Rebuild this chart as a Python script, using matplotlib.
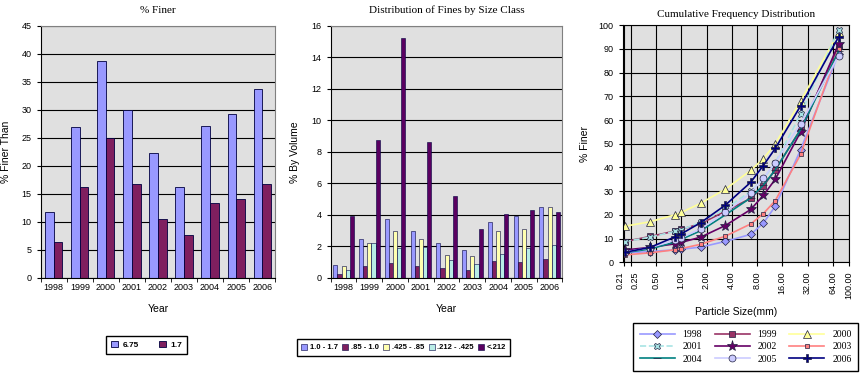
import matplotlib.pyplot as plt
import numpy as np

# data
years = ['1998', '1999', '2000', '2001', '2002', '2003', '2004', '2005', '2006']

# % finer than (chart 1)
finer_675 = [11.8, 27.0, 38.8, 30.0, 22.3, 16.2, 27.2, 29.3, 33.8]
finer_17 = [6.4, 16.3, 24.9, 16.8, 10.6, 7.6, 13.3, 14.1, 16.7]

# distribution of fines by size class (chart 2)
cls_10_17 = [0.85, 2.45, 3.77, 2.98, 2.24, 1.76, 3.56, 3.96, 4.53]
cls_085_10 = [0.23, 0.74, 0.97, 0.74, 0.61, 0.49, 1.08, 0.99, 1.23]
cls_0425_085 = [0.76, 2.24, 2.98, 2.45, 1.48, 1.38, 2.98, 3.13, 4.53]
cls_0212_0425 = [0.53, 2.20, 1.88, 1.95, 1.12, 0.87, 1.55, 1.93, 2.12]
cls_lt0212 = [3.96, 8.74, 15.2, 8.65, 5.23, 3.09, 4.08, 4.30, 4.17]
class_labels = ['1.0 - 1.7', '.85 - 1.0', '.425 - .85', '.212 - .425', '<.212']

# cumulative frequency distribution (chart 3)
sizes = [0.212, 0.425, 0.85, 1.0, 1.7, 3.35, 6.75, 9.5, 13.2, 26.5, 75]
cum_1998 = [4.0, 4.5, 5.3, 5.5, 6.4, 8.8, 11.8, 16.5, 23.6, 47.5, 88]
cum_1999 = [8.7, 10.9, 13.2, 13.9, 16.3, 21.5, 27.0, 32.0, 39.0, 56.0, 91]
cum_2000 = [15.2, 17.1, 20.1, 21.0, 24.9, 30.8, 38.8, 43.7, 49.9, 68.0, 97]
cum_2001 = [8.7, 10.6, 13.1, 13.8, 16.8, 22.5, 30.0, 35.0, 42.0, 62.5, 98]
cum_2002 = [5.2, 6.3, 7.8, 8.4, 10.6, 15.5, 22.3, 28.2, 35.0, 55.0, 92]
cum_2003 = [3.1, 4.0, 5.3, 5.8, 7.6, 11.0, 16.2, 20.5, 26.0, 45.5, 90]
cum_2004 = [4.1, 5.6, 8.6, 9.7, 13.3, 20.0, 27.2, 32.5, 39.0, 56.0, 89]
cum_2005 = [4.3, 6.2, 9.4, 10.4, 14.1, 21.0, 29.3, 35.5, 42.0, 58.5, 87]
cum_2006 = [4.2, 6.3, 10.8, 12.0, 16.7, 24.1, 33.8, 40.8, 48.0, 66.0, 95]

size_ticks = [0.21, 0.25, 0.5, 1, 2, 4, 8, 16, 32, 64, 100]

bg = '#E0E0E0'
serif = 'Liberation Serif'
sans = 'Liberation Sans'

fig = plt.figure(figsize=(8.68, 3.85), dpi=100)


def style_bar_axes(ax, ymax, ystep, ylabel, title):
    ax.set_facecolor(bg)
    ax.set_xlim(-0.5, len(years) - 0.5)
    ax.set_ylim(0, ymax)
    ax.set_yticks(np.arange(0, ymax + 0.01, ystep))
    ax.yaxis.grid(True, color='black', lw=0.8)
    ax.set_axisbelow(True)
    ax.set_xticks(range(len(years)))
    ax.set_xticklabels(years, fontsize=6.5, family=sans)
    ax.set_xticks(np.arange(-0.5, len(years)), minor=True)
    ax.tick_params(axis='x', which='major', length=0)
    ax.tick_params(axis='x', which='minor', length=3)
    ax.tick_params(axis='y', labelsize=6.5, length=3)
    for lab in ax.get_yticklabels():
        lab.set_family(sans)
    for s in ['top', 'right']:
        ax.spines[s].set_color('#808080')
    ax.set_xlabel('Year', fontsize=7.5, family=sans, labelpad=9)
    ax.set_ylabel(ylabel, fontsize=7.5, family=sans, labelpad=8)
    ax.set_title(title, fontsize=8, family=serif, pad=9)


# chart 1: % finer
ax1 = fig.add_axes([0.047, 0.278, 0.270, 0.655])
x = np.arange(len(years))
w = 0.33
ax1.bar(x - w / 2, finer_675, w, color='#9999FF', edgecolor='#000040', lw=0.6, label='6.75')
ax1.bar(x + w / 2, finer_17, w, color='#7F1F5F', edgecolor='#000040', lw=0.6, label='1.7')
style_bar_axes(ax1, 45, 5, '% Finer Than', '% Finer')
fig.legend(*ax1.get_legend_handles_labels(), loc='center', bbox_to_anchor=(0.169, 0.105),
           ncol=2, fancybox=False, edgecolor='black', framealpha=1,
           prop={'family': sans, 'weight': 'bold', 'size': 6},
           handlelength=0.8, handleheight=0.8, columnspacing=2.5, handletextpad=0.5,
           borderpad=0.6)

# chart 2: distribution of fines
ax2 = fig.add_axes([0.381, 0.278, 0.267, 0.655])
series2 = [cls_10_17, cls_085_10, cls_0425_085, cls_0212_0425, cls_lt0212]
colors2 = ['#9999FF', '#7F1F5F', '#FFFFB0', '#B8ECE6', '#5A0060']
w2 = 0.16
for i, (vals, c, lab) in enumerate(zip(series2, colors2, class_labels)):
    ax2.bar(x + (i - 2) * w2, vals, w2, color=c, edgecolor='#000040', lw=0.4, label=lab)
style_bar_axes(ax2, 16, 2, '% By Volume', 'Distribution of Fines by Size Class')
fig.legend(*ax2.get_legend_handles_labels(), loc='center', bbox_to_anchor=(0.465, 0.097),
           ncol=5, fancybox=False, edgecolor='black', framealpha=1,
           prop={'family': sans, 'weight': 'bold', 'size': 5.5},
           handlelength=0.8, handleheight=0.8, columnspacing=0.6, handletextpad=0.3,
           borderpad=0.6)

# chart 3: cumulative frequency distribution
ax3 = fig.add_axes([0.7174, 0.3187, 0.2607, 0.616])
ax3.set_facecolor(bg)
cum_series = [
    ('1998', cum_1998, '#9999FF', 'D', '#9999FF', 4, '-'),
    ('1999', cum_1999, '#993366', 's', '#993366', 4, '-'),
    ('2000', cum_2000, '#FFFF99', '^', '#FFFF99', 6, '-'),
    ('2001', cum_2001, '#A8E4E4', 'X', '#A8E4E4', 5, '--'),
    ('2002', cum_2002, '#660066', '*', '#660066', 8, '-'),
    ('2003', cum_2003, '#FF8080', 's', '#FF8080', 3, '-'),
    ('2004', cum_2004, '#008080', '_', '#008080', 6, '-'),
    ('2005', cum_2005, '#CCCCFF', 'o', '#CCCCFF', 5, '-'),
    ('2006', cum_2006, '#000080', 'P', '#000080', 6, '-'),
]
handles = {}
for name, vals, c, m, fc, ms, ls in cum_series:
    h, = ax3.plot(sizes, vals, color=c, lw=1.2, ls=ls, marker=m, ms=ms,
                  markerfacecolor=fc, markeredgecolor='#202040', markeredgewidth=0.5,
                  label=name)
    handles[name] = h
ax3.set_xscale('log')
ax3.set_xlim(0.2, 100)
ax3.set_ylim(0, 100)
ax3.set_xticks(size_ticks)
ax3.set_xticklabels(['%.2f' % v for v in size_ticks], rotation=90, fontsize=6.5, family=sans)
# the two first labels sit close together, as in the original
ax3.get_xticklabels()[0].set_horizontalalignment('right')
ax3.get_xticklabels()[1].set_horizontalalignment('left')
ax3.xaxis.set_minor_locator(plt.NullLocator())
ax3.set_yticks(range(0, 101, 10))
ax3.tick_params(axis='y', labelsize=6.5, length=3)
ax3.tick_params(axis='x', length=3)
for lab in ax3.get_yticklabels():
    lab.set_family(sans)
ax3.grid(True, color='black', lw=0.8)
ax3.set_axisbelow(True)
ax3.set_xlabel('Particle Size(mm)', fontsize=7.5, family=sans, labelpad=6)
ax3.set_ylabel('% Finer', fontsize=7.5, family=sans, labelpad=6)
ax3.set_title('Cumulative Frequency Distribution', fontsize=8, family=serif, pad=6)

order = ['1998', '2001', '2004', '1999', '2002', '2005', '2000', '2003', '2006']
fig.legend([handles[k] for k in order], order, loc='center', bbox_to_anchor=(0.859, 0.099),
           ncol=3, fancybox=False, edgecolor='black', framealpha=1,
           prop={'family': serif, 'size': 7}, handlelength=3.6,
           columnspacing=1.3, handletextpad=0.8, borderpad=0.7, labelspacing=0.35)

fig.savefig('out.png', dpi=100, facecolor='white')
